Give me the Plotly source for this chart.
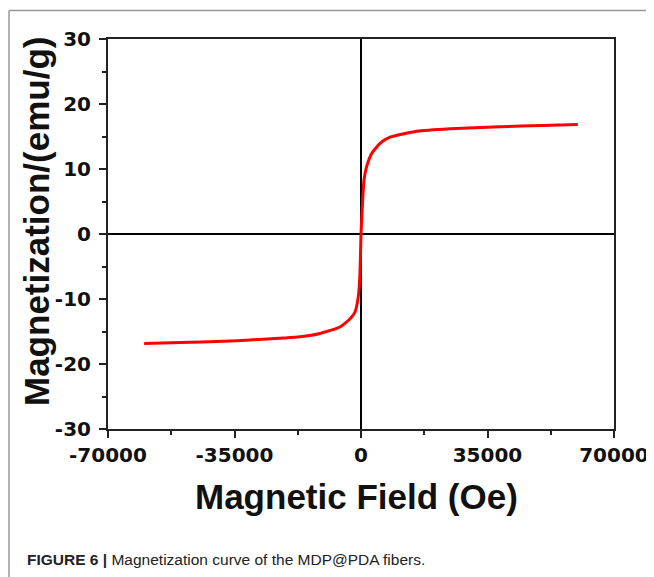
import plotly.graph_objects as go

# Data
field_oe = [-60000, -50000, -38000, -30700, -16880, -11340, -5810, -2950, -1660, -740, -280,
            0, 460, 830, 1570, 2950, 5260, 8020, 15400, 24600, 38460, 50000, 60000]
magnetization = [-16.85, -16.7, -16.5, -16.3, -15.8, -15.3, -14.3, -13.0, -12.0, -9.6, -6.0,
                 0.0, 5.2, 8.3, 10.4, 12.4, 13.95, 14.9, 15.8, 16.2, 16.5, 16.7, 16.85]

x_tick_vals = [-70000, -35000, 0, 35000, 70000]
x_tick_labels = ["-70000", "-35000", "0", "35000", "70000"]
y_tick_vals = [-30, -20, -10, 0, 10, 20, 30]
y_tick_labels = ["-30", "-20", "-10", "0", "10", "20", "30"]

# The page body has an 8px margin, so the figure is 8px smaller and shifted.
OFF = 8
W, H = 654 - OFF, 577 - OFF
L, R, T, B = 108 - OFF, 40, 39 - OFF, 148
pw, ph = W - L - R, H - T - B

def px(x):
    return (x - OFF - L) / pw

def py(y):
    return (H - B - (y - OFF)) / ph

fig = go.Figure()
fig.add_trace(go.Scatter(x=field_oe, y=magnetization, mode="lines",
                         line=dict(color="#ff0000", width=3, shape="spline", smoothing=0.5),
                         showlegend=False, hoverinfo="skip"))

tickfont = dict(family="DejaVu Sans", size=20, color="#111111", weight="bold")
axis_common = dict(showgrid=False, showline=True, mirror=True, linecolor="#222222", linewidth=2,
                   ticks="outside", ticklen=7, tickwidth=2, tickcolor="#222222",
                   zeroline=True, zerolinecolor="#000000", zerolinewidth=1.5,
                   tickfont=tickfont)

fig.update_xaxes(range=[-70000, 70000], tickmode="array", tickvals=x_tick_vals, ticktext=x_tick_labels,
                 minor=dict(ticks="outside", ticklen=4, tickwidth=2, tickcolor="#222222",
                            tickvals=[-52500, -17500, 17500, 52500]),
                 **axis_common)
fig.update_yaxes(range=[-30, 30], tickmode="array", tickvals=y_tick_vals, ticktext=y_tick_labels,
                 minor=dict(ticks="outside", ticklen=4, tickwidth=2, tickcolor="#222222",
                            tickvals=[-25, -15, -5, 5, 15, 25]),
                 ticklabelstandoff=4,
                 **axis_common)

title_font = dict(family="Liberation Sans", size=35, color="#111111", weight="bold")
annotations = [
    dict(text="Magnetic Field (Oe)", x=px(356), y=py(496), xref="paper", yref="paper",
         xanchor="center", yanchor="middle", showarrow=False, font=title_font),
    dict(text="Magnetization/(emu/g)", x=px(36), y=py(222), xref="paper", yref="paper",
         xanchor="center", yanchor="middle", textangle=-90, showarrow=False, font=title_font),
    dict(text="<b>FIGURE 6 |</b> Magnetization curve of the MDP@PDA fibers.",
         x=px(25), y=py(559), xref="paper", yref="paper", xanchor="left", yanchor="middle",
         showarrow=False, font=dict(family="Liberation Sans", size=15.5, color="#222222")),
]

shapes = [
    dict(type="line", xref="paper", yref="paper", x0=px(9), x1=px(660), y0=py(10.5), y1=py(10.5),
         line=dict(color="#999999", width=1.5)),
    dict(type="line", xref="paper", yref="paper", x0=px(9), x1=px(9), y0=py(10.5), y1=py(580),
         line=dict(color="#999999", width=1.5)),
]

fig.update_layout(width=W, height=H, margin=dict(l=L, r=R, t=T, b=B, autoexpand=False),
                  paper_bgcolor="white", plot_bgcolor="white",
                  annotations=annotations, shapes=shapes)

fig.write_html("out.html")
